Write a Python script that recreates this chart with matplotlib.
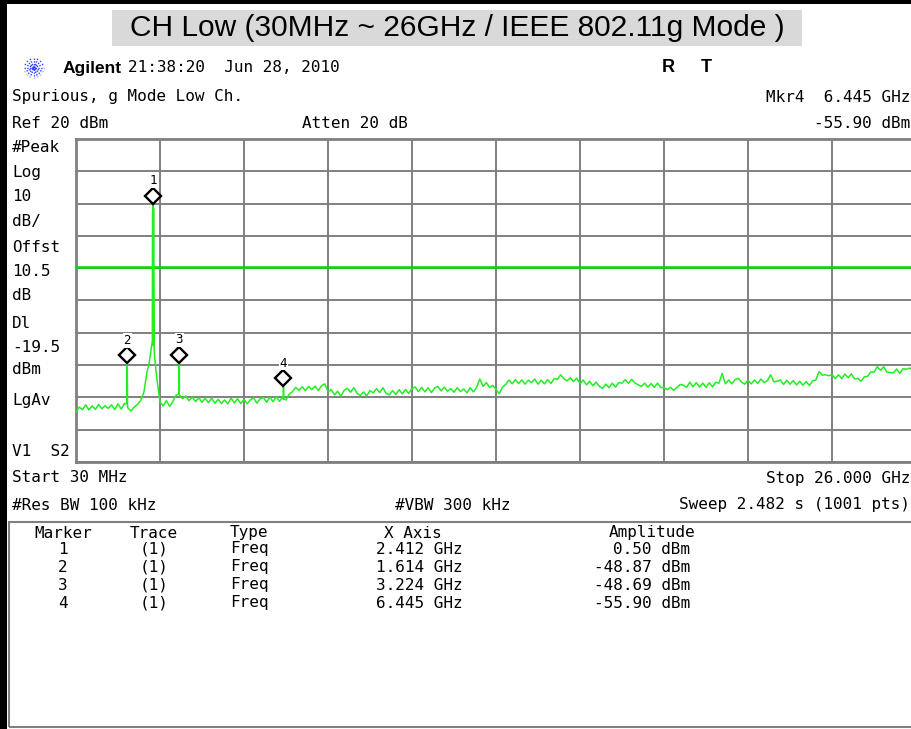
import numpy as np
import matplotlib
matplotlib.use("Agg")
import matplotlib.pyplot as plt
from matplotlib.patches import Rectangle
from matplotlib.lines import Line2D
from matplotlib.transforms import offset_copy

W, H = 912, 729

# analyzer settings
start_ghz = 0.03
stop_ghz = 26.0
ref_dbm = 20
db_per_div = 10
display_line_dbm = -19.5

# noise floor, one value per sweep step (start..stop)
floor_dbm = [
    -64.5, -63.0, -63.8, -62.3, -63.9, -62.6, -63.7, -62.2, -63.5, -62.6,
    -63.4, -62.3, -63.8, -62.0, -63.6, -61.9, -63.2, -64.2, -63.0, -62.2,
    -61.0, -58.5, -52.0, -47.0, -44.0, -54.0, -61.5, -62.6, -61.0, -62.8,
    -61.2, -59.3, -59.0, -60.4, -59.6, -61.0, -59.9, -61.3, -60.1, -61.5,
    -60.3, -61.6, -60.2, -61.8, -60.6, -61.9, -60.8, -62.0, -60.2, -61.7,
    -60.4, -61.9, -60.6, -62.0, -60.7, -60.2, -61.8, -60.4, -60.0, -61.5,
    -60.0, -61.3, -59.8, -61.2, -59.8, -60.8, -59.0, -58.2, -56.9, -57.8,
    -56.7, -57.9, -56.6, -57.6, -56.5, -57.9, -56.4, -55.8, -58.3, -57.6,
    -59.2, -58.1, -59.6, -57.8, -57.2, -58.4, -57.0, -58.7, -59.4, -58.3,
    -59.5, -57.9, -58.6, -57.3, -58.5, -57.0, -58.8, -59.2, -57.9, -59.1,
    -57.6, -58.9, -57.5, -58.8, -57.2, -56.8, -58.2, -56.9, -58.3, -57.0,
    -58.5, -57.1, -56.6, -58.0, -56.8, -58.1, -57.3, -58.4, -57.0, -58.2,
    -57.4, -58.6, -57.0, -58.3, -56.9, -54.3, -56.6, -55.4, -56.9, -56.3,
    -57.5, -58.9, -56.8, -56.0, -54.6, -55.8, -54.5, -55.7, -54.6, -55.9,
    -54.7, -55.4, -54.3, -55.9, -54.7, -55.8, -54.5, -55.7, -54.2, -54.4,
    -53.0, -54.2, -54.9, -53.9, -55.1, -54.0, -55.8, -54.6, -56.1, -55.0,
    -56.4, -55.3, -56.6, -57.2, -55.9, -57.0, -55.6, -56.8, -55.4, -55.6,
    -54.5, -55.6, -54.4, -55.5, -56.1, -56.6, -55.6, -56.8, -55.7, -56.9,
    -55.6, -57.0, -56.9, -57.6, -56.9, -57.8, -56.9, -56.0, -56.2, -56.9,
    -55.3, -56.7, -55.4, -56.8, -55.6, -56.9, -55.5, -56.7, -55.3, -55.6,
    -52.6, -55.8, -54.6, -55.8, -54.5, -54.1, -55.3, -55.9, -54.7, -55.8,
    -54.6, -55.7, -54.3, -55.4, -54.8, -53.0, -55.2, -55.0, -54.6, -56.0,
    -54.7, -55.9, -54.8, -56.1, -55.0, -56.2, -55.1, -56.3, -54.9, -54.6,
    -52.0, -53.1, -53.0, -53.3, -52.9, -54.2, -53.0, -54.2, -52.8, -53.9,
    -52.7, -54.3, -54.1, -55.0, -53.6, -53.5, -52.1, -52.2, -50.5, -51.6,
    -50.5, -52.2, -52.3, -52.4, -51.2, -52.6, -51.1, -51.3, -50.9, -51.6,
    -51.1,
]

# carrier (2.412 GHz) and spurs, extra points between sweep steps
carrier_ghz = [2.28, 2.36, 2.39, 2.396, 2.412, 2.428, 2.432, 2.46, 2.49]
carrier_dbm = [-50.0, -44.5, -42.5, -3.0, 0.5, -1.5, -42.0, -47.5, -50.5]
spur_ghz = [1.602, 1.614, 1.624, 3.212, 3.224, 3.236, 6.432, 6.445, 6.458]
spur_dbm = [-62.0, -48.87, -62.5, -59.0, -48.69, -59.5, -60.5, -55.90, -60.5]

# marker table
marker_ids = [1, 2, 3, 4]
marker_ghz = [2.412, 1.614, 3.224, 6.445]
marker_dbm = [0.50, -48.87, -48.69, -55.90]

mono = "DejaVu Sans Mono"
fs = 11.5
trace_color = "#22ee22"
grid_color = "#808080"

fig = plt.figure(figsize=(W / 100, H / 100), dpi=100)
fig.patch.set_facecolor("white")


def put(x, y, s, **kw):
    kw.setdefault("family", mono)
    kw.setdefault("fontsize", fs)
    kw.setdefault("va", "center")
    fig.text(x / W, 1 - y / H, s, **kw)


def box(x0, y0, x1, y1, **kw):
    fig.add_artist(Rectangle((x0 / W, 1 - y1 / H), (x1 - x0) / W, (y1 - y0) / H,
                             transform=fig.transFigure, **kw))


# black frame on left and top
box(0, 0, 7, H, facecolor="black", edgecolor="none")
box(0, 0, W, 4, facecolor="black", edgecolor="none")

# title
box(112, 10, 802, 46, facecolor="#d9d9d9", edgecolor="none")
put(457, 28, "CH Low (30MHz ~ 26GHz / IEEE 802.11g Mode )", family="Liberation Sans",
    fontsize=21.5, ha="center")

# agilent logo
cx, cy = 34, 68
for ang in np.arange(0, 180, 22.5):
    dx, dy = 10 * np.cos(np.radians(ang)), 10 * np.sin(np.radians(ang))
    fig.add_artist(Line2D([(cx - dx) / W, (cx + dx) / W], [1 - (cy - dy) / H, 1 - (cy + dy) / H],
                          transform=fig.transFigure, color="#3344ff", lw=1, ls=(0, (1, 1))))

put(63, 68, "Agilent", family="Liberation Sans", fontweight="bold", fontsize=12.5)
put(128, 68, "21:38:20  Jun 28, 2010")
put(668, 68, "R", family="Liberation Sans", fontweight="bold", fontsize=13, ha="center")
put(706, 68, "T", family="Liberation Sans", fontweight="bold", fontsize=13, ha="center")

put(12, 97, "Spurious, g Mode Low Ch.")
put(910, 97, "Mkr4  6.445 GHz", ha="right")
put(12, 124, "Ref 20 dBm")
put(302, 124, "Atten 20 dB")
put(910, 124, "-55.90 dBm", ha="right")

left_labels = [("#Peak", 147), ("Log", 173), ("10", 197), ("dB/", 222), ("Offst", 248),
               ("10.5", 272), ("dB", 295), ("Dl", 323), ("-19.5", 347), ("dBm", 370),
               ("LgAv", 400), ("V1  S2", 452)]
for s, y in left_labels:
    put(12, y, s)

# screen
ax = fig.add_axes([76 / W, 1 - 462 / H, 840 / W, 323 / H])
ax.set_xlim(start_ghz, stop_ghz)
ax.set_ylim(ref_dbm - 10 * db_per_div, ref_dbm)
ax.set_xticks(np.linspace(start_ghz, stop_ghz, 11))
ax.set_yticks(np.arange(ref_dbm - 10 * db_per_div, ref_dbm + 1, db_per_div))
ax.grid(color=grid_color, lw=1.4)
ax.tick_params(length=0, labelbottom=False, labelleft=False)
for sp in ax.spines.values():
    sp.set_color(grid_color)
    sp.set_linewidth(2)

ax.axhline(display_line_dbm, color="#00dd00", lw=1.8, zorder=3)

sweep_ghz = np.linspace(start_ghz, stop_ghz, len(floor_dbm))
trace_ghz = np.concatenate([sweep_ghz, carrier_ghz, spur_ghz])
trace_dbm = np.concatenate([floor_dbm, carrier_dbm, spur_dbm])
order = np.argsort(trace_ghz, kind="stable")
ax.plot(trace_ghz[order], trace_dbm[order], color=trace_color, lw=1.1, zorder=4)

diamond_tr = offset_copy(ax.transData, fig=fig, y=6, units="dots")
label_tr = offset_copy(ax.transData, fig=fig, y=21, units="dots")
ax.plot(marker_ghz, marker_dbm, "D", ms=8.5, mfc="white", mec="black", mew=1.7,
        transform=diamond_tr, zorder=6, clip_on=False)
for i, f, a in zip(marker_ids, marker_ghz, marker_dbm):
    ax.text(f, a, str(i), transform=label_tr, ha="center", va="center", family=mono,
            fontsize=9, zorder=6, bbox=dict(fc="white", ec="none", pad=0.5))

# bottom annotations
put(12, 478, "Start 30 MHz")
put(910, 478, "Stop 26.000 GHz", ha="right")
put(12, 505, "#Res BW 100 kHz")
put(395, 505, "#VBW 300 kHz")
put(910, 505, "Sweep 2.482 s (1001 pts)", ha="right")

# marker table
box(9, 522, 930, 727, facecolor="none", edgecolor=grid_color, lw=1.5)
put(63, 533, "Marker", ha="center")
put(154, 533, "Trace", ha="center")
put(230, 533, "Type")
put(384, 533, "X Axis")
put(609, 533, "Amplitude")
for row, (i, f, a) in enumerate(zip(marker_ids, marker_ghz, marker_dbm)):
    y = 549 + row * 18
    put(63, y, str(i), ha="center")
    put(154, y, "(1)", ha="center")
    put(230, y, "Freq")
    put(463, y, f"{f:.3f} GHz", ha="right")
    put(690, y, f"{a:.2f} dBm", ha="right")

fig.savefig("out.png", dpi=100)
